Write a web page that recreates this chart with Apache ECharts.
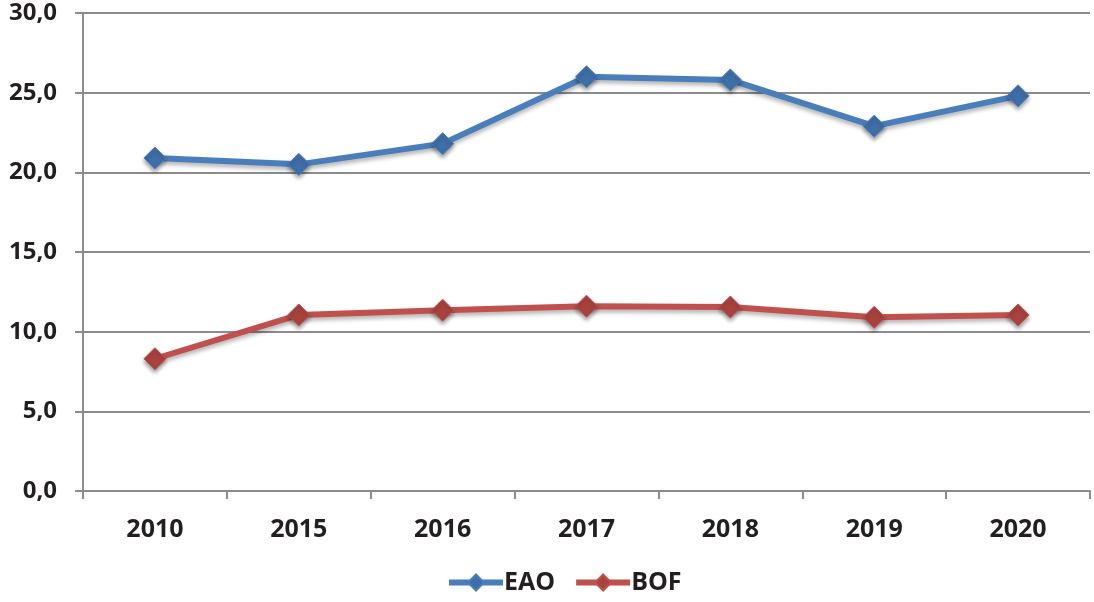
<!DOCTYPE html>
<html><head><meta charset="utf-8">
<script src="https://cdn.jsdelivr.net/npm/echarts@6/dist/echarts.min.js"></script>
<style>html,body{margin:0;padding:0;background:#fff}#c{width:1094px;height:602px}</style>
</head><body><div id="c"></div>
<script>
const categories = ['2010','2015','2016','2017','2018','2019','2020'];
const eao = [20.9, 20.5, 21.8, 26.0, 25.8, 22.9, 24.8];
const bof = [8.3, 11.05, 11.35, 11.6, 11.55, 10.9, 11.05];
const yTicks = [0, 5, 10, 15, 20, 25, 30];

const chart = echarts.init(document.getElementById('c'));
const font = '"Open Sans", sans-serif';
function ser(name, data, color, mcolor) {
  return {
    name, type: 'line', data,
    symbol: 'diamond', symbolSize: 22,
    lineStyle: { color, width: 6, shadowColor: 'rgba(0,0,0,0.3)', shadowBlur: 4, shadowOffsetY: 3 },
    itemStyle: { color: mcolor, borderColor: color, borderWidth: 1, shadowColor: 'rgba(0,0,0,0.4)', shadowBlur: 4, shadowOffsetY: 3 },
    emphasis: { disabled: true }
  };
}
chart.setOption({
  animation: false,
  grid: { left: 83, right: 4, top: 13, bottom: 111, containLabel: false },
  legend: {
    bottom: 2, left: 441, itemWidth: 54, itemHeight: 20, itemGap: 18,
    textStyle: { fontFamily: font, fontWeight: 'bold', fontSize: 25, color: '#231f20', padding: [0, 0, 0, -4] },
    lineStyle: { width: 6, shadowBlur: 0, shadowOffsetY: 0 },
    itemStyle: { shadowBlur: 0, shadowOffsetY: 0 },
    data: ['EAO', 'BOF']
  },
  xAxis: {
    type: 'category', data: categories, boundaryGap: true,
    axisLine: { lineStyle: { color: '#8c8c8c', width: 2 } },
    axisTick: { show: true, length: 8, lineStyle: { color: '#8c8c8c', width: 2 } },
    axisLabel: { fontFamily: font, fontWeight: 'bold', fontSize: 25, color: '#231f20', margin: 26 }
  },
  yAxis: {
    type: 'value', min: 0, max: 30, interval: 5,
    axisLine: { show: true, lineStyle: { color: '#8c8c8c', width: 2 } },
    axisTick: { show: true, length: 8, lineStyle: { color: '#8c8c8c', width: 2 } },
    splitLine: { lineStyle: { color: '#8c8c8c', width: 2 } },
    axisLabel: { fontFamily: font, fontWeight: 'bold', fontSize: 24, color: '#231f20', margin: 26,
      formatter: v => yTicks.includes(v) ? v.toFixed(1).replace('.', ',') : '' }
  },
  series: [
    ser('EAO', eao, '#4a7ebb', '#3f6fa8'),
    ser('BOF', bof, '#c0504d', '#a8433f')
  ]
});
</script></body></html>
